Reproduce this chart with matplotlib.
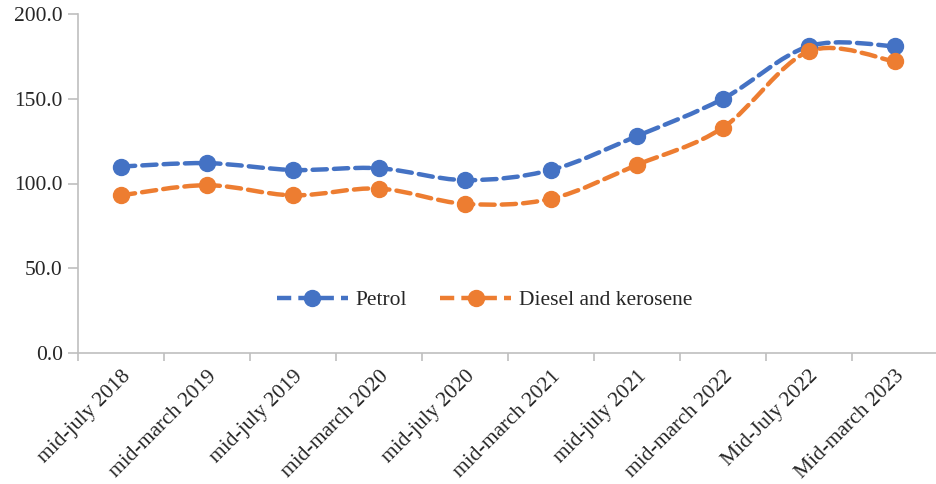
import matplotlib
matplotlib.use("Agg")
import matplotlib.pyplot as plt
from matplotlib.path import Path
from matplotlib.patches import PathPatch
from matplotlib.lines import Line2D
import numpy as np

categories = ["mid-july 2018", "mid-march 2019", "mid-july 2019", "mid-march 2020",
              "mid-july 2020", "mid-march 2021", "mid-july 2021", "mid-march 2022",
              "Mid-July 2022", "Mid-march 2023"]
petrol = [110, 112, 108, 109, 102, 108, 128, 150, 181, 181]
diesel = [93, 99, 93, 97, 88, 91, 111, 133, 178, 172]
yticks = [0, 50, 100, 150, 200]

plt.rcParams['font.family'] = ['Liberation Serif', 'DejaVu Serif']

fig = plt.figure(figsize=(9.36, 4.84), dpi=100)
ax = fig.add_axes([78/936, 1-353/484, 860/936, (353-14)/484])

def smooth_path(xs, ys):
    xs = np.asarray(xs, float); ys = np.asarray(ys, float)
    n = len(xs)
    verts = [(xs[0], ys[0])]
    codes = [Path.MOVETO]
    for i in range(n-1):
        p0 = np.array([xs[max(i-1, 0)], ys[max(i-1, 0)]])
        p1 = np.array([xs[i], ys[i]])
        p2 = np.array([xs[i+1], ys[i+1]])
        p3 = np.array([xs[min(i+2, n-1)], ys[min(i+2, n-1)]])
        c1 = p1 + (p2 - p0) / 6
        c2 = p2 - (p3 - p1) / 6
        verts += [tuple(c1), tuple(c2), tuple(p2)]
        codes += [Path.CURVE4]*3
    return Path(verts, codes)

x = np.arange(len(categories))
lw = 3.2
ms = 11.5
dash = (0, (3.2, 1.6))
series = [(petrol, '#4472C4', 'Petrol'), (diesel, '#ED7D31', 'Diesel and kerosene')]
handles = []
for vals, col, lab in series:
    patch = PathPatch(smooth_path(x, vals), facecolor='none', edgecolor=col, lw=lw,
                      linestyle=dash, capstyle='round', zorder=2)
    ax.add_patch(patch)
    ax.plot(x, vals, linestyle='none', marker='o', color=col, markersize=ms, zorder=3)
    handles.append(Line2D([], [], color=col, lw=lw, linestyle=dash,
                          marker='o', markersize=ms, label=lab))

ax.set_xlim(-0.5, len(categories)-0.5)
ax.set_ylim(0, 200)
ax.set_yticks(yticks)
ax.set_yticklabels([f"{v:.1f}" for v in yticks], fontsize=15.5, color='#262626')
ax.set_xticks(x)
ax.set_xticklabels(categories, rotation=45, ha='right', va='top',
                   rotation_mode='anchor', fontsize=15.5, color='#262626')
ax.set_xticks(np.arange(len(categories)+1)-0.5, minor=True)
ax.tick_params(axis='x', which='major', length=0, pad=10)
ax.tick_params(axis='x', which='minor', length=6, color='#BFBFBF', width=1.2)
ax.tick_params(axis='y', length=7, color='#BFBFBF', width=1.2, pad=4)
for s in ['top', 'right']:
    ax.spines[s].set_visible(False)
for s in ['left', 'bottom']:
    ax.spines[s].set_color('#BFBFBF')
    ax.spines[s].set_linewidth(1.2)

leg = ax.legend(handles=handles, loc='center', bbox_to_anchor=(0.4727, 0.156),
                ncol=2, frameon=False, fontsize=15.5, handlelength=3.3,
                columnspacing=1.55, handletextpad=0.35)
for t in leg.get_texts():
    t.set_color('#262626')

fig.savefig('out.png', dpi=100)
